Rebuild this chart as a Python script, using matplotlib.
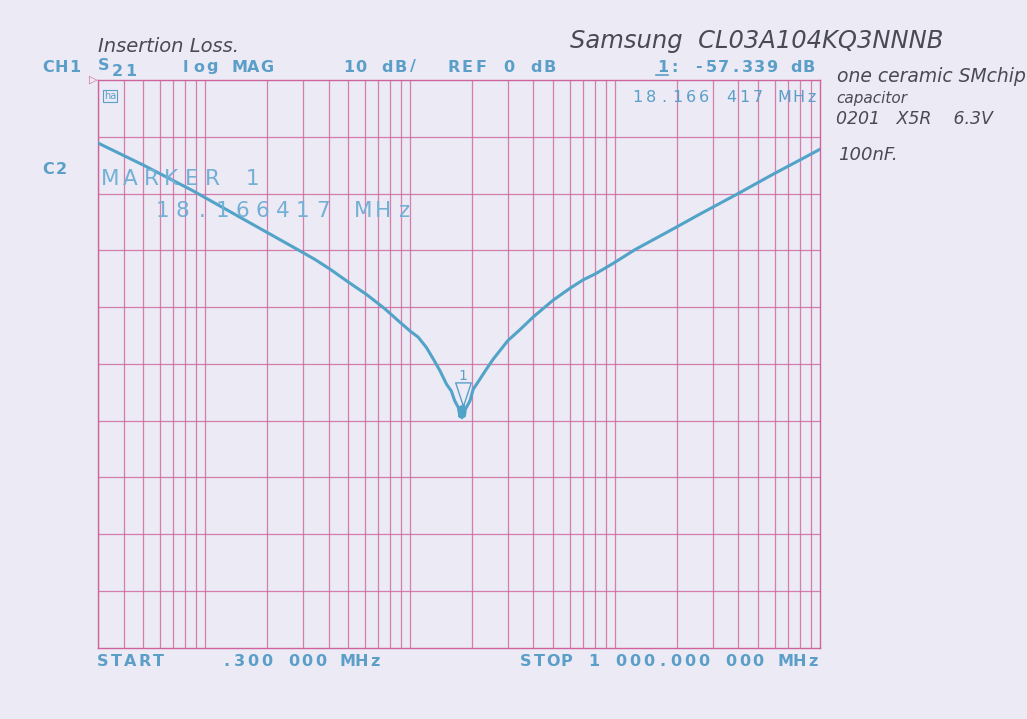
import matplotlib
matplotlib.use("Agg")
import matplotlib.pyplot as plt
from matplotlib.lines import Line2D
from matplotlib.path import Path
import numpy as np

# S21 trace (MHz, dB)
freq_mhz = [0.30, 0.50, 0.86, 1.50, 2.74, 3.43, 4.06, 5.09, 6.14, 7.53, 8.75, 9.98,
            10.95, 12.0, 13.0, 13.98, 15.06, 15.9, 16.5, 17.2, 17.5, 17.7, 17.9,
            18.17, 18.4, 18.6, 19.6, 20.3, 21.9, 23.6, 25.4, 30.0, 34.3, 40.0,
            49.8, 60.2, 69.9, 79.7, 97.9, 124.9, 199.6, 254.0, 398.8, 590.0,
            797.0, 1000.0]
s21_db = [-11.1, -15.0, -19.4, -24.3, -29.6, -31.6, -33.3, -35.8, -37.8, -40.3, -42.4, -44.2,
          -45.3, -47.1, -49.2, -51.2, -53.6, -54.8, -56.5, -57.7, -59.3, -57.6, -59.5,
          -57.3, -59.2, -58.0, -56.5, -54.5, -52.7, -50.9, -49.2, -45.9, -44.0, -41.7,
          -38.8, -36.7, -35.2, -34.2, -32.3, -29.9, -25.9, -23.8, -20.0, -16.6,
          -14.1, -12.2]

marker_f = 18.166417
marker_db = -57.339
start_mhz, stop_mhz = 0.3, 1000.0

BG = "#ebeaf5"
GRID = "#cf639c"
TRACE = "#52a3c8"
TXT = "#5b9fc9"
TXT_LIGHT = "#74afd6"
PEN = "#4a4a55"
PLOT_FONT = "DejaVu Sans"

W, H = 1027, 719
fig = plt.figure(figsize=(W / 100, H / 100), dpi=100, facecolor=BG)


def fx(x):
    return x / W


def fy(y):
    return 1 - y / H


def plotter_text(x0, y, s, size, pitch, color=TXT, weight="bold"):
    # the analyser prints with a wide fixed pitch, so place each glyph in its cell
    half = 0.66 * size * 100 / 72 / 2
    for i, ch in enumerate(s):
        if ch != " ":
            fig.text(fx(x0 + half + i * pitch), fy(y), ch, color=color, fontsize=size,
                     family=PLOT_FONT, weight=weight, ha="center", va="center")


ax = fig.add_axes([fx(98), fy(647.7), (820 - 98) / W, (647.7 - 80) / H])
ax.set_facecolor(BG)
ax.set_xscale("log")
ax.set_xlim(start_mhz, stop_mhz)
ax.set_ylim(-100, 0)

# grid: every 1..9 in each decade, 10 dB per division
for dec in [0.1, 1, 10, 100]:
    for m in range(1, 10):
        v = dec * m
        if start_mhz < v < stop_mhz:
            ax.axvline(v, color=GRID, lw=0.9, alpha=0.8, zorder=1)
for yv in range(-90, 0, 10):
    ax.axhline(yv, color=GRID, lw=0.9, alpha=0.8, zorder=1)
for s in ax.spines.values():
    s.set_color(GRID)
    s.set_linewidth(1.0)
ax.set_xticks([])
ax.set_yticks([])
ax.minorticks_off()

ax.plot(freq_mhz, s21_db, color=TRACE, lw=2.2, zorder=3, solid_joinstyle="round")

# marker triangle with its tip on the trace
tri = Path([(0, 0), (-0.33, 1), (0.33, 1), (0, 0)],
           [Path.MOVETO, Path.LINETO, Path.LINETO, Path.CLOSEPOLY])
ax.plot([marker_f], [marker_db], marker=tri, markersize=34, mfc="none",
        mec=TXT, mew=1.0, zorder=4)
ax.annotate("1", (marker_f, marker_db), textcoords="offset points", xytext=(0, 16),
            ha="center", va="bottom", color=TXT, fontsize=10, family=PLOT_FONT)

# header lines
plotter_text(43, 67, "CH1", 11.5, 13.3)
plotter_text(98, 66, "S", 11.5, 13.3)
plotter_text(112, 72, "21", 11.5, 13.3)
plotter_text(180, 67, "log MAG", 11.5, 13.6)
plotter_text(343, 67, "10 dB/", 11.5, 13.0)
plotter_text(448, 67, "REF 0 dB", 11.5, 13.8)
plotter_text(657, 67, "1: -57.339 dB", 11.5, 12.2)
fig.add_artist(Line2D([fx(656), fx(668)], [fy(75), fy(75)], color=TXT, lw=1.2))
plotter_text(632, 97, "18.166 417 MHz", 11.5, 13.4, weight="normal")
plotter_text(43, 170, "C2", 11.5, 13.3)
fig.text(fx(104), fy(96), "ha", color=TXT, fontsize=7, family=PLOT_FONT, va="center",
         bbox=dict(boxstyle="square,pad=0.1", fc="none", ec=TXT, lw=0.8))
fig.text(fx(89), fy(80), "▷", color=GRID, fontsize=8, va="center")

plotter_text(103, 179, "MARKER 1", 15.5, 20.4, color=TXT_LIGHT, weight="normal")
plotter_text(155, 211, "18.166417 MHz", 15.5, 20.1, color=TXT_LIGHT, weight="normal")

plotter_text(97, 662, "START", 11.5, 14.0)
plotter_text(221, 662, ".300 000 MHz", 11.5, 13.5)
plotter_text(520, 662, "STOP 1 000.000 000 MHz", 11.5, 13.7)

# handwritten notes on the printout
fig.text(fx(98), fy(46), "Insertion Loss.", color=PEN, fontsize=14, style="italic", va="center")
fig.text(fx(570), fy(41), "Samsung  CL03A104KQ3NNNB", color=PEN, fontsize=17.5, style="italic",
         va="center")
fig.text(fx(837), fy(77), "one ceramic SMchip", color=PEN, fontsize=13.5, style="italic",
         va="center")
fig.text(fx(836), fy(98), "capacitor", color=PEN, fontsize=11, style="italic", va="center")
fig.text(fx(836), fy(119), "0201   X5R    6.3V", color=PEN, fontsize=12.5, style="italic",
         va="center")
fig.text(fx(838), fy(155), "100nF.", color=PEN, fontsize=13, style="italic", va="center")

fig.savefig("out.png", dpi=100, facecolor=BG)
